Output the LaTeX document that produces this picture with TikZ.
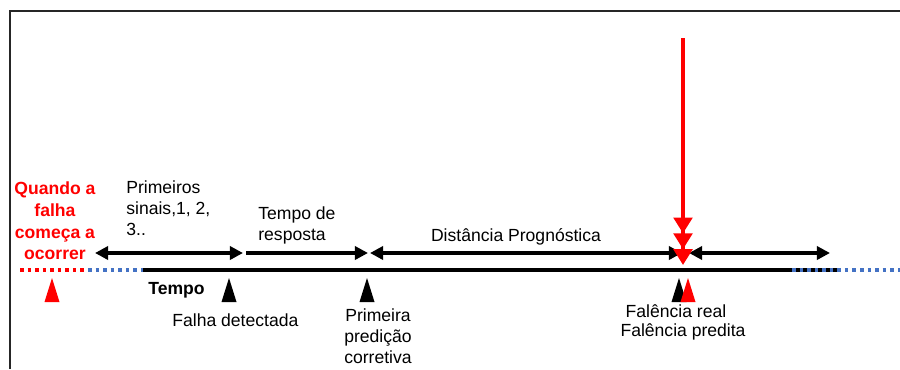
\documentclass[tikz,border=0pt]{standalone}
\usepackage{fontspec}
\setmainfont{Liberation Sans}
\usetikzlibrary{arrows.meta, positioning}
\definecolor{azul}{HTML}{4472C4}

\tikzset{
    seta/.style={line width=2pt, -{Triangle[length=7.5pt,width=7.5pt]}},
    dupla/.style={line width=2pt, {Triangle[length=7.5pt,width=7.5pt]}-{Triangle[length=7.5pt,width=7.5pt]}},
    pontos/.style={line width=2pt, dash pattern=on 2pt off 2.3pt},
    rotulo/.style={inner sep=0pt, align=center},
}

\begin{document}
\begin{tikzpicture}[x=0.02cm, y=-0.02cm, font=\fontsize{10}{12}\selectfont]
            \useasboundingbox (0,0) rectangle (900,369);
            \draw[line width=1.2pt, black!85] (10,369) -- (10,11) -- (900,11);
            % linha do tempo
            \coordinate (ini) at (20,270);
            \coordinate (azul0) at (88,270);
            \coordinate (t0) at (143,270);
            \coordinate (azul1) at (792,270);
            \coordinate (t1) at (838,270);
            \coordinate (fim) at (900,270);
            \draw[pontos, red] (ini) -- (azul0);
            \draw[pontos, azul] (azul0) -- (t0);
            \draw[line width=2pt] (t0) -- (t1);
            \draw[pontos, azul] (azul1) -- (fim);
            % intervalos
            \coordinate (a0) at (95,253);
            \coordinate (a1) at (243,253);
            \coordinate (b0) at (246,253);
            \coordinate (b1) at (368,253);
            \coordinate (c0) at (370,253);
            \coordinate (c1) at (682,253);
            \coordinate (d0) at (689,253);
            \coordinate (d1) at (830,253);
            \draw[dupla] (a0) -- (a1);
            \draw[seta] (b0) -- (b1);
            \draw[dupla] (c0) -- (c1);
            \draw[dupla] (d0) -- (d1);
            % marcadores
            \foreach \px/\cor in {52/red, 229/black, 367/black, 679/black, 688/red}
                \fill[\cor] (\px-7.5,302) -- (\px,278) -- (\px+7.5,302) -- cycle;
            % falencia
            \coordinate (topo) at (683,38);
            \coordinate (falencia) at (683,265);
            \draw[red, line width=2.4pt, -{Triangle[length=9pt,width=10.5pt]Triangle[length=9pt,width=10.5pt]Triangle[length=9pt,width=10.5pt]}] (topo) -- (falencia);
            % textos
            \node[rotulo, red, font=\fontsize{10}{12.4}\selectfont\bfseries] (inicio) at (55,221) {Quando a\\falha\\começa a\\ocorrer};
            \node[rotulo, anchor=west, align=left] (sinais) at (126,208) {Primeiros\\sinais,1, 2,\\3..};
            \node[rotulo, anchor=west, align=left] (resposta) at (258,225) {Tempo de\\resposta};
            \node[rotulo] (prog) at (516,237) {Distância Prognóstica};
            \node[rotulo, anchor=west, font=\bfseries] (tempo) at (148,290) {Tempo};
            \node[rotulo, anchor=west] (detect) at (172,320) {Falha detectada};
            \node[rotulo] (predicao) at (378,336) {Primeira\\predição\\corretiva};
            \node[rotulo] (real) at (676,311) {Falência real};
            \node[rotulo, below=3pt of real, xshift=4pt] (predita) {Falência predita};
        \end{tikzpicture}
\end{document}
